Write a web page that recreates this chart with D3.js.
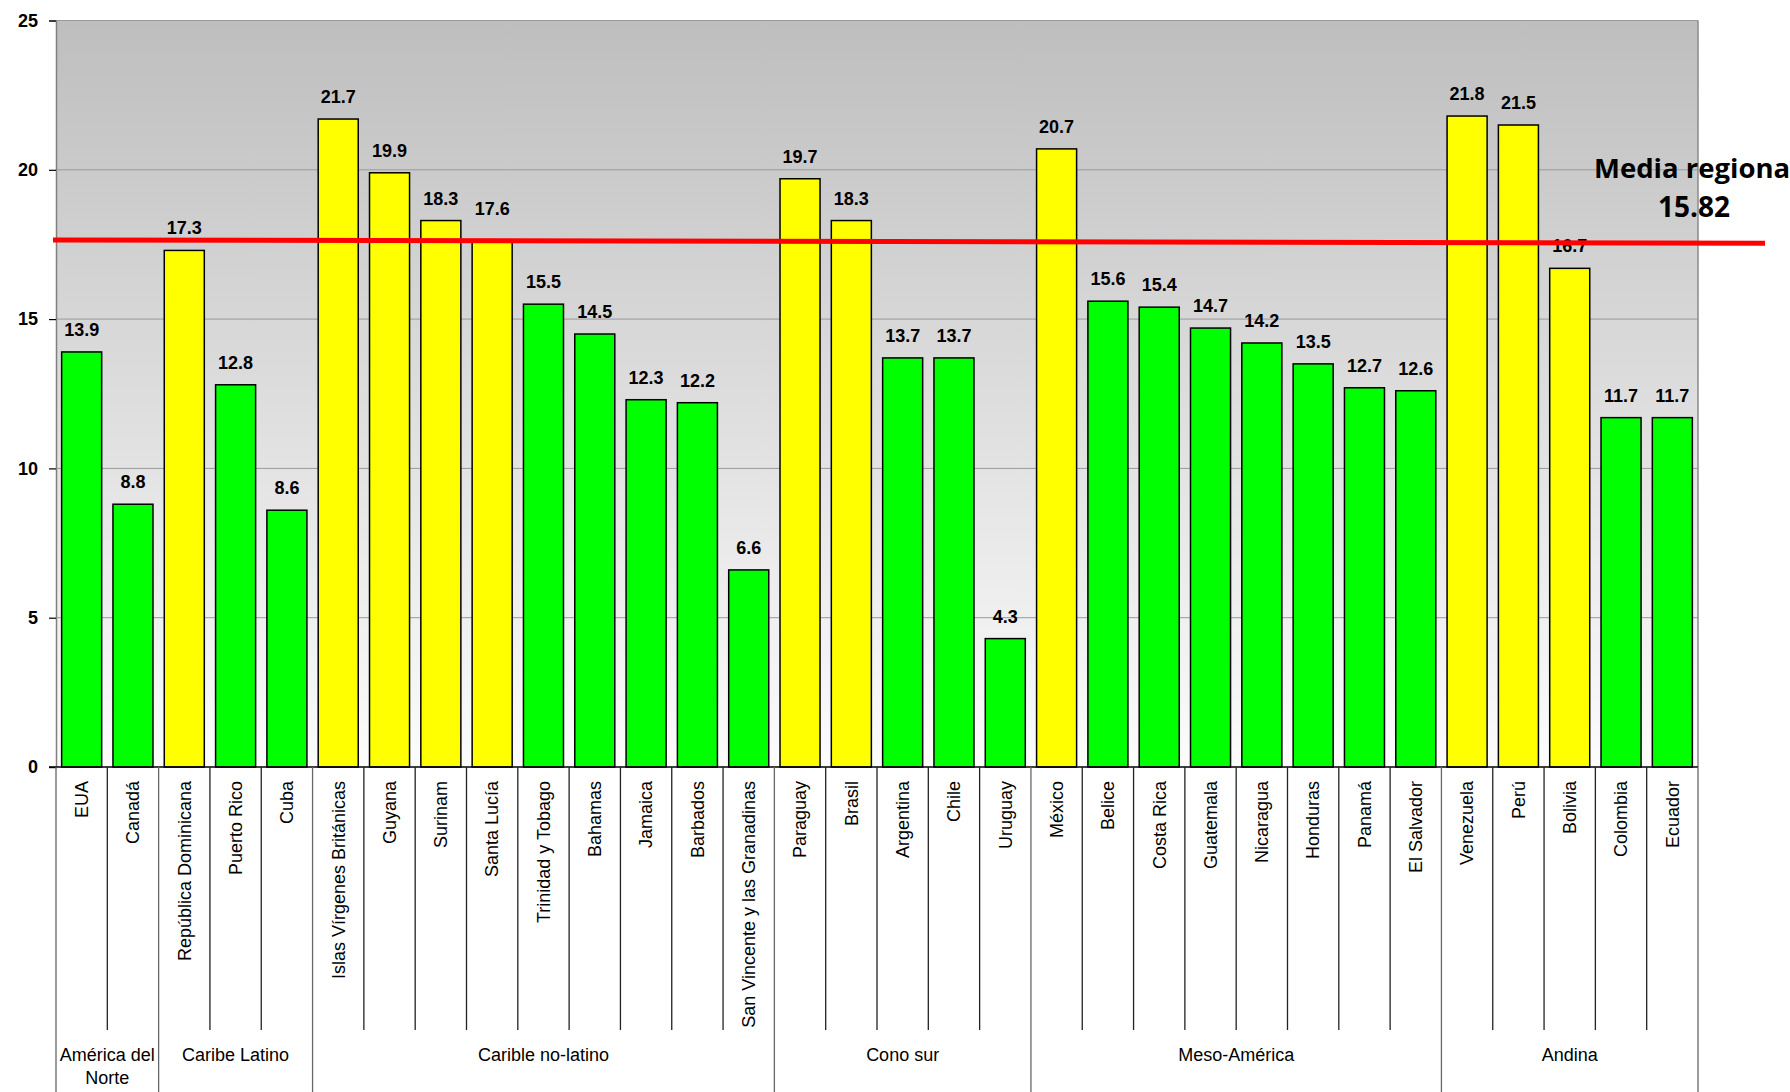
<!DOCTYPE html>
<html><head><meta charset="utf-8">
<script src="https://cdn.jsdelivr.net/npm/d3@7"></script>
<style>body{margin:0;background:#fff;overflow:hidden}</style>
</head><body><svg id="c" width="1790" height="1092"></svg>
<script>
const countries = ["EUA","Canadá","República Dominicana","Puerto Rico","Cuba","Islas Vírgenes Británicas","Guyana","Surinam","Santa Lucía","Trinidad y Tobago","Bahamas","Jamaica","Barbados","San Vincente y las Granadinas","Paraguay","Brasil","Argentina","Chile","Uruguay","México","Belice","Costa Rica","Guatemala","Nicaragua","Honduras","Panamá","El Salvador","Venezuela","Perú","Bolivia","Colombia","Ecuador"];
const values = [13.9,8.8,17.3,12.8,8.6,21.7,19.9,18.3,17.6,15.5,14.5,12.3,12.2,6.6,19.7,18.3,13.7,13.7,4.3,20.7,15.6,15.4,14.7,14.2,13.5,12.7,12.6,21.8,21.5,16.7,11.7,11.7];
const valueLabels = ["13.9","8.8","17.3","12.8","8.6","21.7","19.9","18.3","17.6","15.5","14.5","12.3","12.2","6.6","19.7","18.3","13.7","13.7","4.3","20.7","15.6","15.4","14.7","14.2","13.5","12.7","12.6","21.8","21.5","16.7","11.7","11.7"];
const groupNames = [["América del","Norte"],["Caribe Latino"],["Carible no-latino"],["Cono sur"],["Meso-América"],["Andina"]];
const groupSizes = [2,3,9,5,8,5];
const yTicks = [0,5,10,15,20,25];
const regionalMean = 15.82;
const meanLabel = ["Media regiona","15.82"];
const redLine = [17.65, 17.54];
const movedLabels = ["Santa Lucía"];

const svg = d3.select("#c");
const L = 56, R = 1698, T = 20.5, B = 767;
const x = d3.scaleBand().domain(countries).range([L, R]).paddingInner(0.22).paddingOuter(0.11);
const y = d3.scaleLinear().domain([0, 25]).range([B, T]);
const step = x.step();

const defs = svg.append("defs");
const g = defs.append("linearGradient").attr("id","bg").attr("x1",0).attr("x2",0).attr("y1",0).attr("y2",1);
g.append("stop").attr("offset","0%").attr("stop-color","#bebebe");
g.append("stop").attr("offset","100%").attr("stop-color","#fcfcfc");

svg.append("rect").attr("x",L).attr("y",T).attr("width",R-L).attr("height",B-T).attr("fill","url(#bg)");

// gridlines
svg.append("g").selectAll("line").data(yTicks.filter(d=>d>0)).join("line")
  .attr("x1",L).attr("x2",R).attr("y1",d=>y(d)).attr("y2",d=>y(d))
  .attr("stroke","#9a9a9a").attr("stroke-width",1);
// frame
svg.append("line").attr("x1",R).attr("x2",R).attr("y1",T).attr("y2",B).attr("stroke","#8a8a8a").attr("stroke-width",1.5);

// y axis
const ya = svg.append("g").attr("transform",`translate(${L},0)`)
  .call(d3.axisLeft(y).tickValues(yTicks).tickSize(7).tickPadding(11));
ya.select(".domain").attr("stroke","#808080").attr("stroke-width",1.5);
ya.selectAll(".tick line").attr("stroke","#000").attr("stroke-width",1.2);
ya.selectAll("text").attr("font-family","Liberation Sans, Arial, sans-serif").attr("font-weight","bold").attr("font-size",18).attr("fill","#000");

// bars
const data = countries.map((c,i)=>({c, v: values[i], lab: valueLabels[i]}));
svg.append("g").selectAll("rect").data(data).join("rect")
  .attr("x",d=>x(d.c)).attr("width",x.bandwidth())
  .attr("y",d=>y(d.v)).attr("height",d=>B-y(d.v))
  .attr("fill",d=>d.v>regionalMean?"#ffff00":"#00ff00")
  .attr("stroke","#000").attr("stroke-width",1.5);

svg.append("g").selectAll("text").data(data).join("text")
  .attr("x",d=>x(d.c)+x.bandwidth()/2).attr("y",d=>y(d.v)-16-(movedLabels.includes(d.c)?10:0))
  .attr("text-anchor","middle").attr("font-family","Liberation Sans, Arial, sans-serif")
  .attr("font-weight","bold").attr("font-size",18).attr("fill","#000").text(d=>d.lab);

// baseline
svg.append("line").attr("x1",L-7).attr("x2",R).attr("y1",B).attr("y2",B).attr("stroke","#000").attr("stroke-width",1.5);

// category labels
svg.append("g").selectAll("text").data(countries).join("text")
  .attr("transform",d=>`translate(${x(d)+x.bandwidth()/2},${B+14}) rotate(-90)`)
  .attr("dy","0.35em").attr("text-anchor","end")
  .attr("font-family","Liberation Sans, Arial, sans-serif").attr("font-size",18).attr("fill","#000").text(d=>d);

// separators
const bounds = [0]; groupSizes.forEach(s=>bounds.push(bounds[bounds.length-1]+s));
const sepIdx = d3.range(0, countries.length+1);
svg.append("g").selectAll("line").data(sepIdx).join("line")
  .attr("x1",i=>L+i*step).attr("x2",i=>L+i*step)
  .attr("y1",B).attr("y2",i=>bounds.includes(i)?1092:1030)
  .attr("stroke",i=>bounds.includes(i)?"#666":"#222").attr("stroke-width",1.3);

// group labels
const gl = svg.append("g").selectAll("text").data(groupNames).join("text")
  .attr("x",(d,i)=>L+(bounds[i]+bounds[i+1])/2*step).attr("y",1061)
  .attr("text-anchor","middle").attr("font-family","Liberation Sans, Arial, sans-serif")
  .attr("font-size",18).attr("fill","#000");
gl.selectAll("tspan").data(d=>d).join("tspan")
  .attr("x",function(){return d3.select(this.parentNode).attr("x");})
  .attr("dy",(d,i)=>i?23:0).text(d=>d);

// red line
svg.append("line").attr("x1",L-3).attr("x2",R+67).attr("y1",y(redLine[0])).attr("y2",y(redLine[1]))
  .attr("stroke","#ff0000").attr("stroke-width",5);

// mean label
svg.append("text").attr("x",1594).attr("y",178).attr("font-family","Open Sans, sans-serif")
  .attr("font-weight","bold").attr("font-size",27.5).attr("fill","#000").text(meanLabel[0]);
svg.append("text").attr("x",1694).attr("y",217).attr("text-anchor","middle").attr("font-family","Open Sans, sans-serif")
  .attr("font-weight","bold").attr("font-size",28).attr("fill","#000").text(meanLabel[1]);
</script></body></html>
